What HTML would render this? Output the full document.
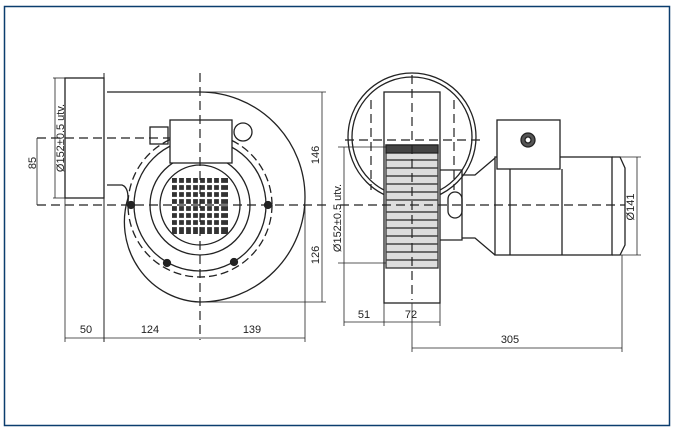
<!DOCTYPE html>
<html><head><meta charset="utf-8"><style>
html,body{margin:0;padding:0;background:#fff;width:677px;height:433px;overflow:hidden}
svg{display:block}
text{font-family:"Liberation Sans",sans-serif;font-size:11px;fill:#222}
</style></head><body>
<svg width="677" height="433" viewBox="0 0 677 433" xmlns="http://www.w3.org/2000/svg">
<rect x="4.5" y="6.5" width="665" height="419" fill="none" stroke="#0b3d6e" stroke-width="1.5"/>
<g fill="none" stroke="#222" stroke-width="1.3">
<!-- LEFT VIEW -->
<rect x="65" y="78" width="39" height="120"/>
<line x1="104" y1="73" x2="104" y2="342" stroke-width="1"/>
<line x1="65" y1="198" x2="65" y2="342" stroke-width="0.8"/>
<path d="M107,92 L200,92 A105,105 0 0 1 200,302 A78,80 0 0 1 128,198"/>
<path d="M107,185 L122,185 Q128,187 128,198"/>
<circle cx="200" cy="205" r="72" stroke-dasharray="8,4"/>
<circle cx="200" cy="205" r="66"/>
<circle cx="200" cy="205" r="50"/>
<circle cx="200" cy="205" r="40"/>
<rect x="170" y="120" width="62" height="43" fill="#fff"/>
<rect x="150" y="127" width="18" height="17" />
<circle cx="243" cy="132" r="9"/>
<!-- grid -->
<g fill="#333" stroke="none">
<rect x="172" y="178" width="56" height="56"/>
</g>
<g stroke="#fff" stroke-width="2.2">
<line x1="172" y1="184" x2="228" y2="184"/><line x1="172" y1="191" x2="228" y2="191"/><line x1="172" y1="198" x2="228" y2="198"/><line x1="172" y1="205" x2="228" y2="205"/><line x1="172" y1="212" x2="228" y2="212"/><line x1="172" y1="219" x2="228" y2="219"/><line x1="172" y1="226" x2="228" y2="226"/>
<line x1="178" y1="178" x2="178" y2="234"/><line x1="185" y1="178" x2="185" y2="234"/><line x1="192" y1="178" x2="192" y2="234"/><line x1="199" y1="178" x2="199" y2="234"/><line x1="206" y1="178" x2="206" y2="234"/><line x1="213" y1="178" x2="213" y2="234"/><line x1="220" y1="178" x2="220" y2="234"/>
</g>
<g fill="#222"><circle cx="131" cy="205" r="3.5"/><circle cx="268" cy="205" r="3.5"/><circle cx="167" cy="263" r="3.5"/><circle cx="234" cy="262" r="3.5"/></g>
<g stroke-dasharray="9,5" stroke-width="1.2">
<line x1="200" y1="73" x2="200" y2="340"/>
<line x1="37" y1="205" x2="330" y2="205"/>
<line x1="37" y1="138" x2="170" y2="138"/>
</g>
<!-- left dims -->
<g stroke-width="0.8">
<line x1="37" y1="138" x2="37" y2="205"/>
<line x1="55" y1="78" x2="55" y2="198"/><line x1="53" y1="78" x2="65" y2="78"/><line x1="53" y1="198" x2="65" y2="198"/>
<line x1="200" y1="92" x2="326" y2="92"/><line x1="200" y1="302" x2="326" y2="302"/>
<line x1="322" y1="92" x2="322" y2="302"/>
<line x1="305" y1="205" x2="305" y2="342"/>
<line x1="65" y1="338" x2="305" y2="338"/>
</g>
<!-- RIGHT VIEW -->
<circle cx="412" cy="137" r="64"/>
<circle cx="412" cy="137" r="60"/>
<rect x="384" y="92" width="56" height="211" fill="#fff"/>
<rect x="386" y="145" width="52" height="123" fill="#ddd" stroke="#333"/>
<g stroke="#444" stroke-width="1.6">
<line x1="386" y1="152" x2="438" y2="152"/><line x1="386" y1="160" x2="438" y2="160"/><line x1="386" y1="168" x2="438" y2="168"/><line x1="386" y1="176" x2="438" y2="176"/><line x1="386" y1="184" x2="438" y2="184"/><line x1="386" y1="192" x2="438" y2="192"/><line x1="386" y1="200" x2="438" y2="200"/><line x1="386" y1="212" x2="438" y2="212"/><line x1="386" y1="220" x2="438" y2="220"/><line x1="386" y1="228" x2="438" y2="228"/><line x1="386" y1="236" x2="438" y2="236"/><line x1="386" y1="244" x2="438" y2="244"/><line x1="386" y1="252" x2="438" y2="252"/><line x1="386" y1="260" x2="438" y2="260"/>
</g>
<rect x="386" y="145" width="52" height="8" fill="#444"/>
<path d="M440,170 L462,170 L462,240 L440,240"/>
<path d="M462,175 L475,175 L495,158"/>
<path d="M462,238 L475,238 L495,255"/>
<rect x="448" y="192" width="14" height="26" rx="7"/>
<rect x="495" y="157" width="117" height="98"/>
<line x1="510" y1="169" x2="510" y2="255"/><line x1="562" y1="169" x2="562" y2="255"/>
<path d="M612,157 L620,157 L625,168 L625,245 L620,255 L612,255"/>
<rect x="497" y="120" width="63" height="49" fill="#fff"/>
<circle cx="528" cy="140" r="7" fill="#555"/><circle cx="528" cy="140" r="3" fill="#fff"/>
<g stroke-dasharray="9,5" stroke-width="1.2">
<line x1="340" y1="205" x2="625" y2="205"/>
<line x1="412" y1="75" x2="412" y2="300"/>
<line x1="345" y1="140" x2="485" y2="140"/>
<line x1="371" y1="100" x2="371" y2="190"/><line x1="454" y1="100" x2="454" y2="190"/>
</g>
<g stroke-width="0.8">
<line x1="344" y1="147" x2="344" y2="326"/><line x1="338" y1="147" x2="386" y2="147"/><line x1="338" y1="263" x2="386" y2="263"/>
<line x1="384" y1="303" x2="384" y2="326"/><line x1="440" y1="303" x2="440" y2="326"/>
<line x1="344" y1="322" x2="440" y2="322"/>
<line x1="412" y1="303" x2="412" y2="352"/><line x1="622" y1="255" x2="622" y2="352"/>
<line x1="412" y1="348" x2="622" y2="348"/>
<line x1="615" y1="157" x2="641" y2="157"/><line x1="615" y1="255" x2="641" y2="255"/>
<line x1="637" y1="157" x2="637" y2="255"/>
</g>
</g>
<text x="86" y="333" text-anchor="middle">50</text>
<text x="150" y="333" text-anchor="middle">124</text>
<text x="252" y="333" text-anchor="middle">139</text>
<text x="364" y="318" text-anchor="middle">51</text>
<text x="411" y="318" text-anchor="middle">72</text>
<text x="510" y="343" text-anchor="middle">305</text>
<text transform="translate(36,163) rotate(-90)" text-anchor="middle">85</text>
<text transform="translate(64,138) rotate(-90)" text-anchor="middle">Ø152±0.5 utv.</text>
<text transform="translate(319,155) rotate(-90)" text-anchor="middle">146</text>
<text transform="translate(319,255) rotate(-90)" text-anchor="middle">126</text>
<text transform="translate(341,218) rotate(-90)" text-anchor="middle">Ø152±0.5 utv.</text>
<text transform="translate(634,207) rotate(-90)" text-anchor="middle">Ø141</text>
</svg>
</body></html>
